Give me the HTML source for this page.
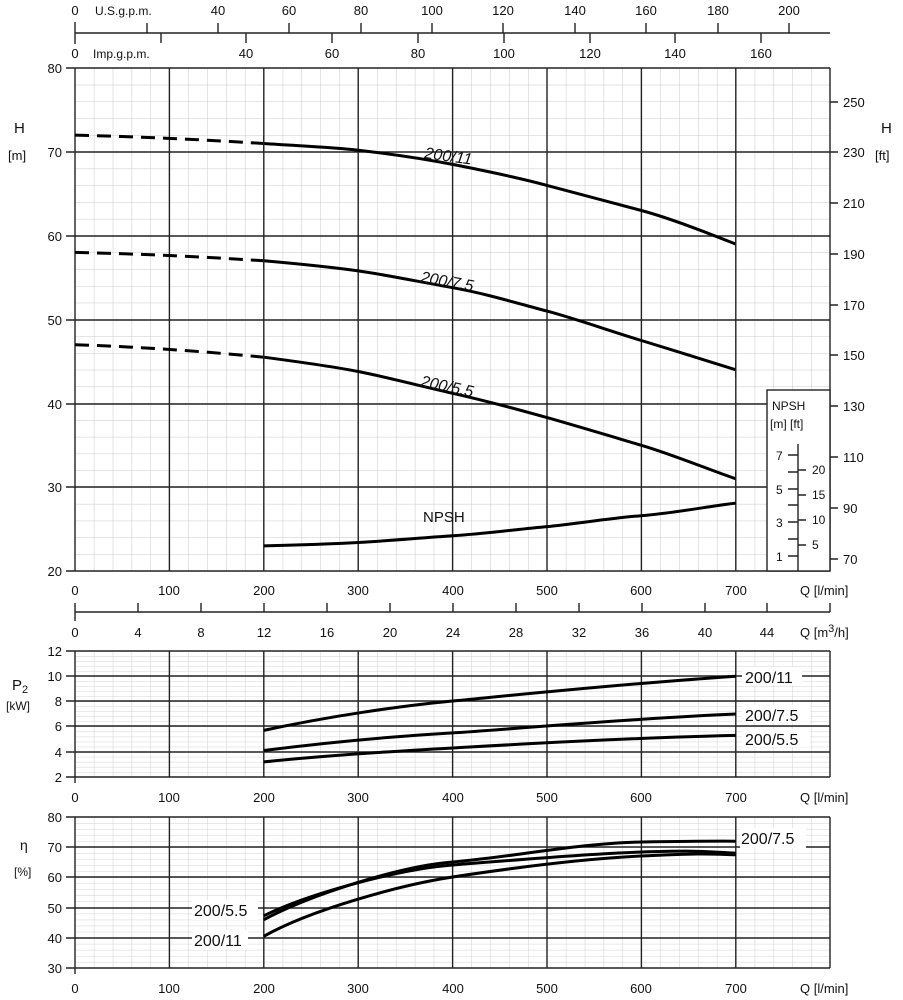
<!DOCTYPE html>
<html><head><meta charset="utf-8"><style>
body{margin:0;background:#fff}
svg{display:block;font-family:"Liberation Sans",sans-serif;font-size:13px;fill:#111}
.mj{stroke:#222;stroke-width:1.4;fill:none}
.c{stroke:#000;stroke-width:3;fill:none;stroke-linejoin:round}
.lb{font-size:16px}
</style></head><body>
<svg width="903" height="1000" viewBox="0 0 903 1000">
<defs>
<pattern id="g1" x="75" y="68" width="18.88" height="16.766" patternUnits="userSpaceOnUse"><path d="M0 0V16.766M0 0H18.88" stroke="#c8c8c8" stroke-width="1" fill="none"/></pattern>
<pattern id="g2" x="75" y="651" width="18.88" height="5.04" patternUnits="userSpaceOnUse"><path d="M0 0V5.04M0 0H18.88" stroke="#d0d0d0" stroke-width="1" fill="none"/></pattern>
<pattern id="g3" x="75" y="817" width="18.88" height="6.04" patternUnits="userSpaceOnUse"><path d="M0 0V6.04M0 0H18.88" stroke="#d0d0d0" stroke-width="1" fill="none"/></pattern>
</defs>

<!-- top axes -->
<path class="mj" d="M75 33H830 M75 22V44"/>
<path class="mj" d="M147 33V23 M218 33V23 M289 33V23 M361 33V23 M432 33V23 M503 33V23 M575 33V23 M646 33V23 M718 33V23 M789 33V23"/>
<path class="mj" d="M161 33V43 M246 33V43 M332 33V43 M418 33V43 M504 33V43 M590 33V43 M675 33V43 M761 33V43"/>
<g text-anchor="middle">
<text x="75" y="15">0</text><text x="218" y="15">40</text><text x="289" y="15">60</text><text x="361" y="15">80</text><text x="432" y="15">100</text><text x="503" y="15">120</text><text x="575" y="15">140</text><text x="646" y="15">160</text><text x="718" y="15">180</text><text x="789" y="15">200</text>
<text x="75" y="58">0</text><text x="246" y="58">40</text><text x="332" y="58">60</text><text x="418" y="58">80</text><text x="504" y="58">100</text><text x="590" y="58">120</text><text x="675" y="58">140</text><text x="761" y="58">160</text>
</g>
<text x="95" y="15" font-size="12">U.S.g.p.m.</text>
<text x="93" y="58" font-size="12">Imp.g.p.m.</text>

<!-- main chart -->
<rect x="75" y="68" width="755" height="503" fill="url(#g1)"/>
<path class="mj" d="M75 68V571 M169.4 68V571 M263.8 68V571 M358.2 68V571 M452.6 68V571 M547 68V571 M641.4 68V571 M735.8 68V571 M830 68V571"/>
<path class="mj" d="M66 68H830 M66 152H830 M66 236H830 M66 320H830 M66 404H830 M66 487H830 M66 571H830"/>
<rect x="767" y="390" width="63" height="181" fill="#fff" stroke="#222" stroke-width="1.4"/>
<path class="mj" d="M798 444V571 M788 455H798 M788 489H798 M788 522H798 M788 556H798 M788 472H798 M788 505H798 M788 539H798 M798 470H806 M798 495H806 M798 520H806 M798 545H806"/>
<g font-size="12"><text x="772" y="410">NPSH</text><text x="770" y="428">[m]  [ft]</text>
<text x="776" y="460">7</text><text x="776" y="494">5</text><text x="776" y="527">3</text><text x="776" y="561">1</text>
<text x="812" y="474">20</text><text x="812" y="499">15</text><text x="812" y="524">10</text><text x="812" y="549">5</text></g>
<g text-anchor="end"><text x="62" y="73">80</text><text x="62" y="157">70</text><text x="62" y="241">60</text><text x="62" y="325">50</text><text x="62" y="409">40</text><text x="62" y="492">30</text><text x="62" y="576">20</text></g>
<text x="14" y="133" font-size="15">H</text><text x="8" y="160">[m]</text>
<text x="881" y="133" font-size="15">H</text><text x="875" y="160">[ft]</text>
<path class="mj" d="M830 102H838 M830 152H838 M830 203H838 M830 254H838 M830 305H838 M830 355H838 M830 406H838 M830 457H838 M830 508H838 M830 559H838"/>
<g><text x="843" y="107">250</text><text x="843" y="157">230</text><text x="843" y="208">210</text><text x="843" y="259">190</text><text x="843" y="310">170</text><text x="843" y="360">150</text><text x="843" y="411">130</text><text x="843" y="462">110</text><text x="843" y="513">90</text><text x="843" y="564">70</text></g>
<g text-anchor="middle"><text x="75" y="595">0</text><text x="169" y="595">100</text><text x="264" y="595">200</text><text x="358" y="595">300</text><text x="453" y="595">400</text><text x="547" y="595">500</text><text x="641" y="595">600</text><text x="736" y="595">700</text></g>
<text x="800" y="595">Q [l/min]</text>

<!-- curves main -->
<path class="c" stroke-dasharray="14,8" stroke-width="2" d="M75 135.1 Q169.4 137.5 263.8 143.5"/>
<path class="c" d="M263.8 143.5 C300 146 330 147 358.2 150.2 S420 158 452.6 164.4 S520 178 547 185.4 S610 202 641.4 210.5 S710 234 735.8 244.1"/>
<path class="c" stroke-dasharray="14,8" stroke-width="2" d="M75 252.4 Q169.4 254.5 263.8 260.8"/>
<path class="c" d="M263.8 260.8 C300 264 330 267 358.2 270.9 S420 282 452.6 287.7 S520 304 547 311.1 S610 331 641.4 340.5 S710 362 735.8 369.8"/>
<path class="c" stroke-dasharray="14,8" stroke-width="2" d="M75 344.7 Q169.4 348 263.8 357.2"/>
<path class="c" d="M263.8 357.2 C300 362 330 366 358.2 371.5 S420 386 452.6 393.3 S520 410 547 417.6 S610 436 641.4 445.3 S710 470 735.8 478.8"/>
<path class="c" d="M263.8 545.9 C300 545 330 544 358.2 542.5 S420 538 452.6 535.8 S520 529 547 526.6 S610 518 641.4 515.7 S710 506 735.8 503.1"/>
<path class="mj" stroke-width="2" d="M263.8 136V151 M735.8 237V251 M263.8 254V268 M735.8 363V377 M263.8 350V364 M735.8 472V486"/>
<g class="lb" font-style="italic">
<text x="424" y="158" transform="rotate(8 424 158)">200/11</text>
<text x="420" y="282" transform="rotate(10 420 282)">200/7.5</text>
<text x="420" y="386" transform="rotate(12 420 386)">200/5.5</text>
</g>
<text x="423" y="522" font-size="15">NPSH</text>

<!-- m3/h axis -->
<path class="mj" d="M75 612H830 M75 603V621"/>
<path class="mj" d="M138 612V603 M201 612V603 M264 612V603 M327 612V603 M390 612V603 M453 612V603 M516 612V603 M579 612V603 M642 612V603 M705 612V603 M767 612V603 M830 612V603"/>
<g text-anchor="middle"><text x="75" y="637">0</text><text x="138" y="637">4</text><text x="201" y="637">8</text><text x="264" y="637">12</text><text x="327" y="637">16</text><text x="390" y="637">20</text><text x="453" y="637">24</text><text x="516" y="637">28</text><text x="579" y="637">32</text><text x="642" y="637">36</text><text x="705" y="637">40</text><text x="767" y="637">44</text></g>
<text x="800" y="637">Q [m<tspan dy="-5" font-size="11">3</tspan><tspan dy="5">/h]</tspan></text>

<!-- P2 chart -->
<rect x="75" y="651" width="755" height="126" fill="url(#g2)"/>
<path class="mj" d="M75 651V783 M169.4 651V777 M263.8 651V777 M358.2 651V777 M452.6 651V777 M547 651V777 M641.4 651V777 M735.8 651V777 M830 651V777"/>
<path class="mj" d="M66 651H830 M66 676H830 M66 701H830 M66 726H830 M66 752H830 M66 777H830"/>
<g text-anchor="end"><text x="62" y="656">12</text><text x="62" y="681">10</text><text x="62" y="706">8</text><text x="62" y="731">6</text><text x="62" y="757">4</text><text x="62" y="782">2</text></g>
<text x="12" y="690" font-size="15">P<tspan font-size="11" dy="3">2</tspan></text><text x="6" y="710" font-size="12">[kW]</text>
<g text-anchor="middle"><text x="75" y="802">0</text><text x="169" y="802">100</text><text x="264" y="802">200</text><text x="358" y="802">300</text><text x="453" y="802">400</text><text x="547" y="802">500</text><text x="641" y="802">600</text><text x="736" y="802">700</text></g>
<text x="800" y="802">Q [l/min]</text>
<path class="c" stroke-width="2.6" d="M263.8 730.4 C330 716 400 706 452.6 701 S620 684 735.8 676.2"/>
<path class="c" stroke-width="2.6" d="M263.8 750.5 C330 742 400 736 452.6 732.9 S620 719 735.8 714"/>
<path class="c" stroke-width="2.6" d="M263.8 761.9 C330 755 400 751 452.6 748 S620 738 735.8 735.4"/>
<rect x="742" y="667" width="60" height="18" fill="#fff"/><rect x="742" y="705" width="68" height="18" fill="#fff"/><rect x="742" y="729" width="68" height="18" fill="#fff"/>
<g class="lb"><text x="745" y="683">200/11</text><text x="745" y="721">200/7.5</text><text x="745" y="745">200/5.5</text></g>

<!-- eta chart -->
<rect x="75" y="817" width="755" height="151" fill="url(#g3)"/>
<path class="mj" d="M75 817V974 M169.4 817V968 M263.8 817V968 M358.2 817V968 M452.6 817V968 M547 817V968 M641.4 817V968 M735.8 817V968 M830 817V968"/>
<path class="mj" d="M66 817H830 M66 847H830 M66 877H830 M66 908H830 M66 938H830 M66 968H830"/>
<g text-anchor="end"><text x="62" y="822">80</text><text x="62" y="852">70</text><text x="62" y="882">60</text><text x="62" y="913">50</text><text x="62" y="943">40</text><text x="62" y="973">30</text></g>
<text x="20" y="850" font-size="14">η</text><text x="14" y="876" font-size="12">[%]</text>
<g text-anchor="middle"><text x="75" y="993">0</text><text x="169" y="993">100</text><text x="264" y="993">200</text><text x="358" y="993">300</text><text x="453" y="993">400</text><text x="547" y="993">500</text><text x="641" y="993">600</text><text x="736" y="993">700</text></g>
<text x="800" y="993">Q [l/min]</text>
<path class="c" stroke-width="2.6" d="M263.8 919.7 C310 895 400 866 452.6 862 S580 843 641.4 842 S710 841 735.8 841.2"/>
<path class="c" stroke-width="2.6" d="M263.8 915.8 C310 893 400 869 452.6 865 S580 854 641.4 852 S710 852 735.8 853.2"/>
<path class="c" stroke-width="2.6" d="M263.8 936.3 C310 910 400 885 452.6 877 S580 859 641.4 856 S710 854 735.8 854.8"/>
<rect x="740" y="828" width="66" height="20" fill="#fff"/><rect x="192" y="900" width="66" height="20" fill="#fff"/><rect x="192" y="930" width="56" height="20" fill="#fff"/>
<g class="lb"><text x="741" y="844">200/7.5</text><text x="194" y="916">200/5.5</text><text x="194" y="946">200/11</text></g>
</svg>
</body></html>
